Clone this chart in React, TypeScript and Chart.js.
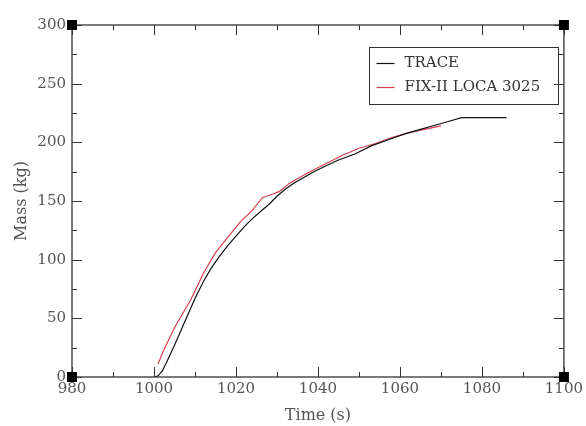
import React, { useEffect, useRef } from "react";
import { Chart, registerables } from "chart.js";

Chart.register(...registerables);

const traceTime = [1000, 1001, 1002, 1003, 1005, 1007, 1010, 1012, 1014, 1016, 1018, 1020, 1022, 1024, 1026, 1028, 1030, 1032, 1034, 1036, 1039, 1042, 1045, 1049, 1053, 1057, 1061, 1065, 1069, 1072, 1075, 1086];
const traceMass = [0, 1, 5, 12, 27, 43, 67, 81, 93, 103, 112, 120, 128, 135, 141, 147, 154, 160, 165, 169, 175, 180, 185, 190, 197, 202, 207, 211, 215, 218, 221, 221];

const fixTime = [1001, 1002, 1005, 1009, 1012, 1015, 1018, 1021, 1024, 1026.5, 1029, 1030.5, 1033, 1037, 1042, 1046, 1050, 1054, 1058, 1062, 1066, 1070];
const fixMass = [11, 20, 42, 66, 88, 106, 119, 132, 142, 153, 156, 158, 165, 173, 182, 189, 195, 199, 204, 208, 211, 214];

const seriesLabels = ["TRACE", "FIX-II LOCA 3025"];
const seriesColors = ["#111111", "#d0404f"];

const xMin = 980, xMax = 1100, xStep = 20;
const yMin = 0, yMax = 300, yStep = 50;

const FONT = "'DejaVu Serif', serif";

const framePlugin = {
  id: "framePlugin",
  afterDraw(chart: any) {
    const { ctx, chartArea } = chart;
    const { left, right, top, bottom } = chartArea;
    const xs = chart.scales.x;
    const ys = chart.scales.y;
    ctx.save();
    ctx.strokeStyle = "#333";
    ctx.lineWidth = 1.3;
    ctx.strokeRect(left, top, right - left, bottom - top);
    ctx.lineWidth = 1;
    ctx.beginPath();
    const major = 10, minor = 5;
    for (let v = xMin; v <= xMax + 1e-9; v += xStep / 2) {
      const isMajor = Math.abs(((v - xMin) / xStep) - Math.round((v - xMin) / xStep)) < 1e-6;
      const len = isMajor ? major : minor;
      const px = Math.round(xs.getPixelForValue(v)) + 0.5;
      ctx.moveTo(px, bottom);
      ctx.lineTo(px, bottom - len);
      ctx.moveTo(px, top);
      ctx.lineTo(px, top + len);
    }
    for (let v = yMin; v <= yMax + 1e-9; v += yStep / 2) {
      const isMajor = Math.abs(((v - yMin) / yStep) - Math.round((v - yMin) / yStep)) < 1e-6;
      const len = isMajor ? major : minor;
      const py = Math.round(ys.getPixelForValue(v)) + 0.5;
      ctx.moveTo(left, py);
      ctx.lineTo(left + len, py);
      ctx.moveTo(right, py);
      ctx.lineTo(right - len, py);
    }
    ctx.stroke();
    // corner squares
    ctx.fillStyle = "#000";
    const s = 10;
    [[left, top], [right, top], [left, bottom], [right, bottom]].forEach(([cx, cy]) => {
      ctx.fillRect(cx - s / 2, cy - s / 2, s, s);
    });
    // legend
    const boxLeft = Math.round(xs.getPixelForValue(1052.5)) + 0.5;
    const boxRight = Math.round(xs.getPixelForValue(1098.5)) + 0.5;
    const boxTop = Math.round(ys.getPixelForValue(281)) + 0.5;
    const boxBottom = Math.round(ys.getPixelForValue(233)) + 0.5;
    ctx.strokeStyle = "#333";
    ctx.lineWidth = 1;
    ctx.strokeRect(boxLeft, boxTop, boxRight - boxLeft, boxBottom - boxTop);
    ctx.font = `15px ${FONT}`;
    ctx.textBaseline = "middle";
    ctx.textAlign = "left";
    chart.data.datasets.forEach((ds: any, i: number) => {
      const cy = boxTop + 16 + i * 24;
      ctx.strokeStyle = ds.borderColor;
      ctx.lineWidth = 1.2;
      ctx.beginPath();
      ctx.moveTo(boxLeft + 7, cy);
      ctx.lineTo(boxLeft + 25, cy);
      ctx.stroke();
      ctx.fillStyle = "#333";
      ctx.fillText(ds.label, boxLeft + 35, cy);
    });
    ctx.restore();
  },
};

export default function App() {
  const ref = useRef<HTMLCanvasElement | null>(null);
  useEffect(() => {
    if (!ref.current) return;
    const mk = (t: number[], m: number[]) => t.map((x, i) => ({ x, y: m[i] }));
    const chart = new Chart(ref.current, {
      type: "line",
      data: {
        datasets: [
          {
            label: seriesLabels[0],
            data: mk(traceTime, traceMass),
            borderColor: seriesColors[0],
            borderWidth: 1.2,
            pointRadius: 0,
            fill: false,
            tension: 0,
          },
          {
            label: seriesLabels[1],
            data: mk(fixTime, fixMass),
            borderColor: seriesColors[1],
            borderWidth: 1.2,
            pointRadius: 0,
            fill: false,
            tension: 0,
          },
        ],
      },
      options: {
        animation: false,
        responsive: false,
        maintainAspectRatio: false,
        layout: { padding: { top: 25, right: 20, left: 0, bottom: 0 } },
        plugins: { legend: { display: false }, tooltip: { enabled: false } },
        scales: {
          x: {
            type: "linear",
            min: xMin,
            max: xMax,
            grid: { display: false, drawTicks: false },
            border: { display: false },
            ticks: { stepSize: xStep, padding: 3, color: "#555", font: { family: FONT, size: 15 }, maxRotation: 0, callback: (v: any) => String(v) },
            title: { display: true, text: "Time (s)", color: "#555", font: { family: FONT, size: 16 }, padding: { top: 0, bottom: 1 } },
            afterFit: (s: any) => { s.height = 49; },
          },
          y: {
            type: "linear",
            min: yMin,
            max: yMax,
            grid: { display: false, drawTicks: false },
            border: { display: false },
            ticks: { stepSize: yStep, padding: 6, color: "#555", font: { family: FONT, size: 15 }, callback: (v: any) => String(v) },
            title: { display: true, text: "Mass (kg)", color: "#555", font: { family: FONT, size: 16 }, padding: { top: 12, bottom: 0 } },
            afterFit: (s: any) => { s.width = 72; },
          },
        },
      },
      plugins: [framePlugin],
    } as any);
    return () => chart.destroy();
  }, []);
  return (
    <div style={{ position: "fixed", left: 0, top: 0, width: 586, height: 426, background: "#fff" }}>
      <canvas ref={ref} width={586} height={426} style={{ width: 586, height: 426, display: "block" }} />
    </div>
  );
}
